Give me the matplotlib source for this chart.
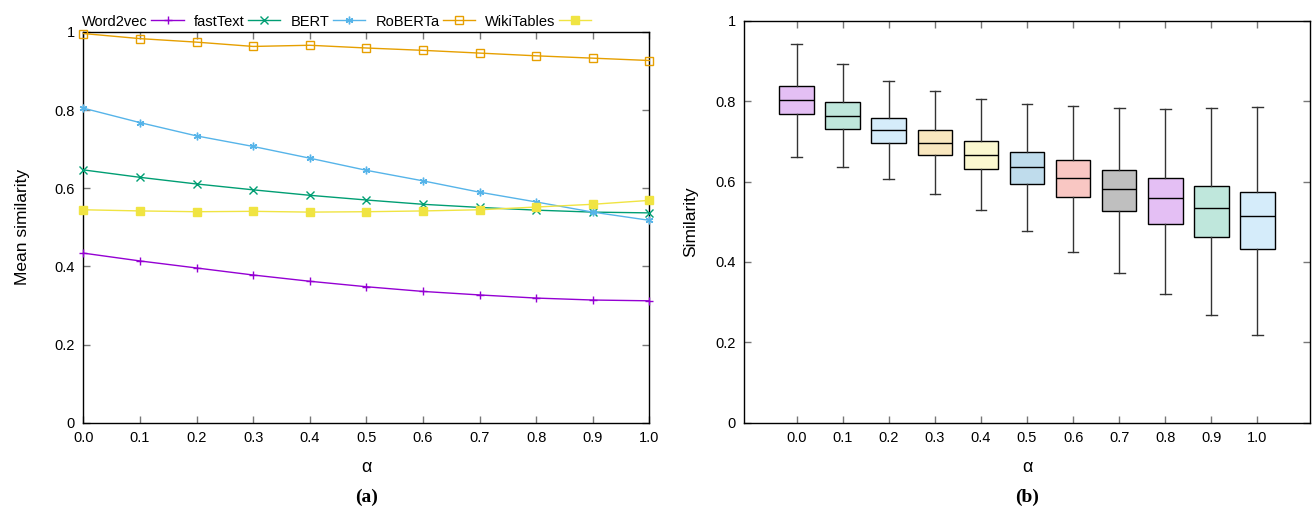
import matplotlib
matplotlib.use("Agg")
import matplotlib.pyplot as plt
import numpy as np

plt.rcParams['font.family'] = ['Liberation Sans', 'DejaVu Sans']

# ---- data: left panel (mean similarity vs alpha) ----
alphas = [0.0, 0.1, 0.2, 0.3, 0.4, 0.5, 0.6, 0.7, 0.8, 0.9, 1.0]
alpha_labels = ["0.0", "0.1", "0.2", "0.3", "0.4", "0.5", "0.6", "0.7", "0.8", "0.9", "1.0"]
word2vec = [0.434, 0.414, 0.396, 0.378, 0.362, 0.348, 0.336, 0.327, 0.319, 0.314, 0.312]
fasttext = [0.647, 0.628, 0.611, 0.596, 0.582, 0.570, 0.559, 0.551, 0.544, 0.539, 0.537]
bert = [0.805, 0.768, 0.734, 0.707, 0.677, 0.646, 0.619, 0.590, 0.565, 0.539, 0.518]
roberta = [0.996, 0.983, 0.974, 0.963, 0.966, 0.959, 0.953, 0.946, 0.939, 0.933, 0.927]
wikitables = [0.545, 0.542, 0.540, 0.541, 0.539, 0.540, 0.542, 0.545, 0.552, 0.559, 0.569]

# ---- data: right panel (box plots) ----
whisk_hi = [0.942, 0.893, 0.849, 0.824, 0.805, 0.794, 0.788, 0.782, 0.781, 0.784, 0.786]
q3 = [0.837, 0.797, 0.758, 0.729, 0.702, 0.674, 0.653, 0.628, 0.609, 0.590, 0.573]
med = [0.802, 0.764, 0.728, 0.697, 0.665, 0.636, 0.609, 0.582, 0.558, 0.535, 0.514]
q1 = [0.767, 0.731, 0.697, 0.665, 0.632, 0.595, 0.562, 0.526, 0.495, 0.461, 0.433]
whisk_lo = [0.662, 0.635, 0.606, 0.570, 0.528, 0.477, 0.425, 0.373, 0.320, 0.269, 0.219]

line_colors = ["#9400d3", "#009e73", "#56b4e9", "#e69f00", "#f0e442"]
box_base = ["#9400d3", "#009e73", "#56b4e9", "#e69f00", "#f0e442", "#0072b2",
            "#e51e10", "#000000"]

fig = plt.figure(figsize=(13.12, 5.15), dpi=100)

# ---------------- left panel ----------------
ax1 = fig.add_axes([0.0636, 0.1792, 0.4313, 0.7587])
series = [("Word2vec", word2vec, "+", 'full'),
          ("fastText", fasttext, "x", 'full'),
          ("BERT", bert, (6, 2, 0), 'full'),
          ("RoBERTa", roberta, "s", 'none'),
          ("WikiTables", wikitables, "s", 'full')]
for (name, vals, mk, fill), col in zip(series, line_colors):
    ax1.plot(alphas, vals, color=col, lw=1.0, marker=mk, ms=5.5,
             fillstyle=fill, mew=1.0, label=name, clip_on=False, zorder=3)
ax1.set_xlim(0, 1)
ax1.set_ylim(0, 1)
ax1.set_xticks(alphas)
ax1.set_xticklabels(alpha_labels)
ax1.set_yticks([0, 0.2, 0.4, 0.6, 0.8, 1.0])
ax1.set_yticklabels(["0", "0.2", "0.4", "0.6", "0.8", "1"])
ax1.tick_params(direction='in', top=True, right=True, length=5, width=1,
                labelsize=10.5, colors='#777777', labelcolor='black', pad=6)
ax1.set_xlabel("α", fontsize=13, labelpad=10)
ax1.set_ylabel("Mean similarity", fontsize=12.5, labelpad=18)
for s in ax1.spines.values():
    s.set_linewidth(1.0)
leg = ax1.legend(loc='lower left', bbox_to_anchor=(-0.005, 1.005), ncol=5,
                 markerfirst=False, frameon=False, fontsize=10.5,
                 handlelength=2.2, handletextpad=0.25, columnspacing=0.7,
                 borderaxespad=0.0, borderpad=0.1)
fig.text(0.2793, 0.025, "(a)", fontsize=14, fontweight='bold',
         family='Liberation Serif', ha='center')

# ---------------- right panel ----------------
ax2 = fig.add_axes([0.5671, 0.1792, 0.4314, 0.7806])
positions = list(range(len(alphas)))
stats = []
for i in positions:
    stats.append(dict(med=med[i], q1=q1[i], q3=q3[i],
                      whislo=whisk_lo[i], whishi=whisk_hi[i], fliers=[]))
bp = ax2.bxp(stats, positions=positions, widths=0.75, patch_artist=True,
             showfliers=False,
             boxprops=dict(edgecolor='black', linewidth=1.0),
             medianprops=dict(color='black', linewidth=1.0),
             whiskerprops=dict(color='#333333', linewidth=1.0),
             capprops=dict(color='#333333', linewidth=1.0), capwidths=0.23)
for i, patch in enumerate(bp['boxes']):
    c = matplotlib.colors.to_rgb(box_base[i % len(box_base)])
    fc = tuple(1 - 0.25 * (1 - v) for v in c)
    patch.set_facecolor(fc)
ax2.set_xlim(-1.14, 11.14)
ax2.set_ylim(0, 1)
ax2.set_xticks(positions)
ax2.set_xticklabels(alpha_labels)
ax2.set_yticks([0, 0.2, 0.4, 0.6, 0.8, 1.0])
ax2.set_yticklabels(["0", "0.2", "0.4", "0.6", "0.8", "1"])
ax2.tick_params(direction='in', top=True, right=True, length=5, width=1,
                labelsize=10.5, colors='#777777', labelcolor='black', pad=6)
ax2.set_xlabel("α", fontsize=13, labelpad=10)
ax2.set_ylabel("Similarity", fontsize=12.5, labelpad=12)
for s in ax2.spines.values():
    s.set_linewidth(1.0)
fig.text(0.7828, 0.025, "(b)", fontsize=14, fontweight='bold',
         family='Liberation Serif', ha='center')

fig.savefig("out.png", dpi=100)
